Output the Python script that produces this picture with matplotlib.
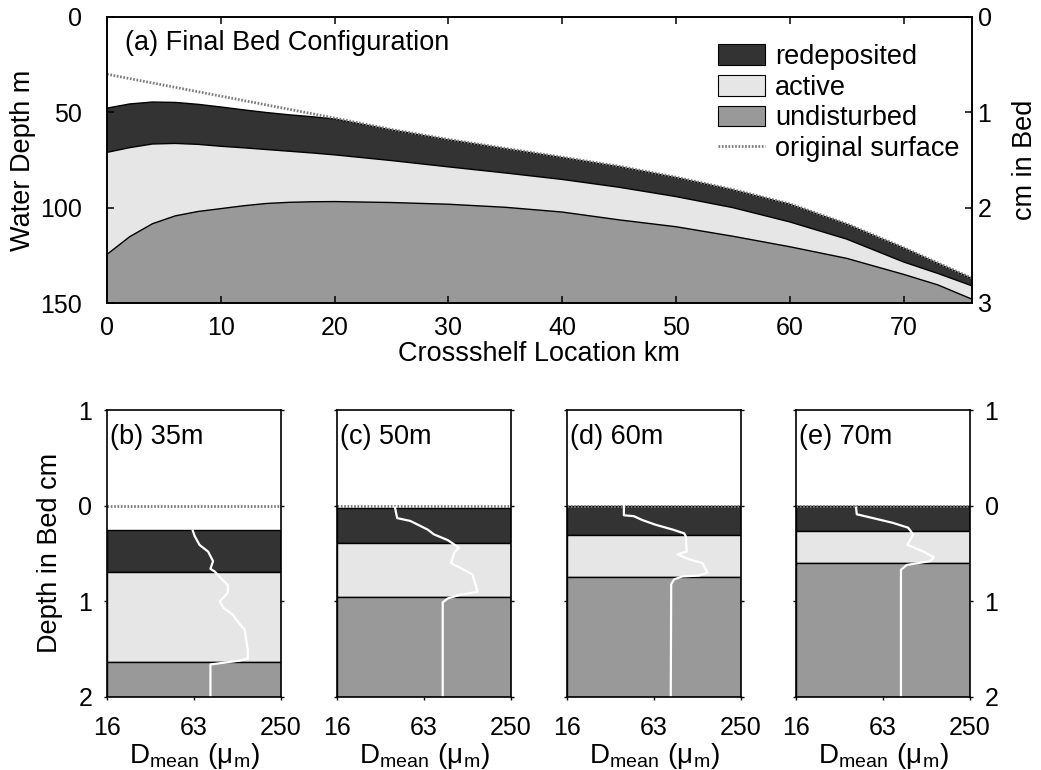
import numpy as np
import matplotlib
matplotlib.use("Agg")
import matplotlib.pyplot as plt
from matplotlib.patches import Patch
from matplotlib.lines import Line2D

plt.rcParams['font.family'] = ['Liberation Sans', 'DejaVu Sans']
plt.rcParams['mathtext.fontset'] = 'custom'
plt.rcParams['mathtext.rm'] = 'Liberation Sans'

# Cross-shelf bed layers (water depth, m)
km = [0, 2, 4, 6, 8, 10, 12, 14, 16, 18, 20, 25, 30, 35, 40, 45, 50, 55, 60, 65, 70, 73, 76]
surface = [30, 32.3, 34.6, 36.9, 39.2, 41.5, 43.8, 46.1, 48.4, 50.7, 53, 59, 64.2,
           68.9, 73.5, 78.3, 84, 90.5, 98, 108.5, 121, 129, 137]
redep_top = [47.8, 45.6, 44.6, 44.8, 45.8, 47.2, 48.7, 50.1, 51.3, 52.3, 53.5, 59.3, 64.5,
             69.2, 73.8, 78.6, 84.3, 90.8, 98.3, 108.8, 121.3, 129.3, 137.3]
active_top = [71, 68.5, 66.6, 66.3, 66.8, 67.8, 68.6, 69.5, 70.4, 71.3, 72.3, 75.3, 78.6,
              81.8, 85.2, 89.3, 94.2, 100, 107.5, 116.5, 128.5, 134.5, 141]
undist_top = [124.5, 115.2, 108.4, 104.3, 102, 100.5, 99, 97.8, 97.2, 96.9, 96.8, 97.3, 98.2,
              99.8, 102.3, 106.4, 110, 115, 120.5, 126.6, 135, 140.5, 148]

# Core sites: layer boundaries (cm in bed) and mean grain size profiles (um)
sites = ['(b) 35m', '(c) 50m', '(d) 60m', '(e) 70m']
redep_tops = [0.25, 0.02, 0.0, 0.0]
redep_bots = [0.69, 0.39, 0.31, 0.26]
active_bots = [1.63, 0.95, 0.75, 0.60]

b_depth = [0.26, 0.32, 0.41, 0.48, 0.58, 0.66, 0.69, 0.76, 0.83, 0.91, 1.00, 1.07, 1.14,
           1.19, 1.30, 1.51, 1.60, 1.62, 1.66, 2.0]
b_dmean = [62, 64, 69, 79, 85.5, 82, 88, 97, 108, 108, 95, 101, 117, 123, 141, 148, 148,
           130, 82, 82]
c_depth = [0.02, 0.13, 0.16, 0.25, 0.30, 0.36, 0.41, 0.44, 0.49, 0.60, 0.67, 0.72, 0.90,
           0.93, 0.97, 1.01, 2.0]
c_dmean = [40, 41.4, 51, 67, 74, 92, 103, 110, 102, 97, 119, 136, 147.5, 113, 92, 85, 85]
d_depth = [0.0, 0.10, 0.11, 0.15, 0.20, 0.25, 0.29, 0.32, 0.48, 0.51, 0.56, 0.60, 0.70,
           0.73, 0.74, 0.77, 0.82, 2.0]
d_dmean = [39.3, 39.3, 46, 52.5, 65, 85, 102, 104.5, 106, 91.6, 110, 136, 147.5, 129, 99,
           87, 83, 82.4]
e_depth = [0.02, 0.09, 0.13, 0.18, 0.23, 0.30, 0.41, 0.48, 0.54, 0.58, 0.62, 0.67, 2.0]
e_dmean = [41.3, 41.8, 54, 74, 94, 102, 93, 120, 141.5, 133, 92, 84, 84]
profiles = [(b_depth, b_dmean), (c_depth, c_dmean), (d_depth, d_dmean), (e_depth, e_dmean)]

c_redep = '#333333'
c_active = '#e6e6e6'
c_undist = '#999999'
c_orig = '#7a7a7a'

W, H = 1041, 770


def box(l, t, r, b):
    return [l / W, 1 - b / H, (r - l) / W, (b - t) / H]


fig = plt.figure(figsize=(W / 100, H / 100), dpi=100)

# (a) cross-shelf section
ax = fig.add_axes(box(107, 17, 972, 303))
ax.fill_between(km, redep_top, active_top, facecolor=c_redep, lw=0)
ax.fill_between(km, active_top, undist_top, facecolor=c_active, lw=0)
ax.fill_between(km, undist_top, 150, facecolor=c_undist, lw=0)
for y in (redep_top, active_top, undist_top):
    ax.plot(km, y, color='black', lw=1.0)
ax.plot(km, surface, color=c_orig, lw=2.0, ls=(0, (0.6, 0.6)))
ax.set_xlim(0, 76)
ax.set_ylim(150, 0)
ax.set_xticks(range(0, 80, 10))
ax.set_yticks([0, 50, 100, 150])
ax.tick_params(direction='in', length=5, width=1.1, labelsize=18, top=True,
               right=False, pad=9)
ax.tick_params(axis='y', pad=18)
for s in ax.spines.values():
    s.set_linewidth(1.2)
ax.text(0.021, 0.909, '(a) Final Bed Configuration', transform=ax.transAxes,
        fontsize=19.5, va='center', ha='left')

ax2 = ax.twinx()
ax2.set_ylim(3, 0)
ax2.set_yticks([0, 1, 2, 3])
ax2.tick_params(direction='in', length=5, width=1.1, labelsize=18, pad=4)
for s in ax2.spines.values():
    s.set_linewidth(1.2)

handles = [Patch(facecolor=c_redep, edgecolor='black', lw=0.8),
           Patch(facecolor=c_active, edgecolor='black', lw=0.8),
           Patch(facecolor=c_undist, edgecolor='black', lw=0.8),
           Line2D([], [], color=c_orig, lw=2.0, ls=(0, (0.6, 0.6)))]
labels = ['redeposited', 'active', 'undisturbed', 'original surface']
ax2.legend(handles, labels, loc='upper left', bbox_to_anchor=(0.706, 0.905),
           frameon=False, fontsize=19.5, handlelength=1.74, handleheight=0.8,
           handletextpad=0.37, labelspacing=0.17, borderaxespad=0, borderpad=0)

fig.text(23 / W, 1 - 160 / H, 'Water Depth m', rotation=90, fontsize=19.5,
         ha='center', va='center')
fig.text(1025 / W, 1 - 160 / H, 'cm in Bed', rotation=90, fontsize=19.5,
         ha='center', va='center')
fig.text(539 / W, 1 - 354 / H, 'Crossshelf Location km', fontsize=19.5,
         ha='center', va='center')

# (b)-(e) bed cores
lefts = [107, 337, 567, 796]
for i, name in enumerate(sites):
    bx = fig.add_axes(box(lefts[i], 410, lefts[i] + 174, 697))
    bx.axhspan(redep_tops[i], redep_bots[i], facecolor=c_redep, edgecolor='black', lw=1.0)
    bx.axhspan(redep_bots[i], active_bots[i], facecolor=c_active, edgecolor='black', lw=1.0)
    bx.axhspan(active_bots[i], 2, facecolor=c_undist, edgecolor='black', lw=1.0)
    bx.axhline(0, color=c_orig, lw=2.0, ls=(0, (0.6, 0.6)))
    depth, dmean = profiles[i]
    bx.plot(dmean, depth, color='white', lw=1.6)
    bx.set_xscale('log')
    bx.set_xlim(16, 250)
    bx.set_ylim(2, -1)
    bx.set_xticks([16, 63, 250])
    bx.set_xticklabels(['16', '63', '250'])
    bx.xaxis.set_minor_locator(matplotlib.ticker.NullLocator())
    bx.set_yticks([-1, 0, 1, 2])
    bx.set_yticklabels(['1', '0', '1', '2'])
    bx.tick_params(direction='out', length=2.5, width=1.0, labelsize=18,
                   left=True, right=True, labelleft=(i == 0), labelright=(i == 3))
    bx.tick_params(axis='x', pad=11)
    bx.tick_params(axis='y', pad=8)
    for s in bx.spines.values():
        s.set_linewidth(1.2)
    bx.text(0.02, 0.906, name, transform=bx.transAxes, fontsize=19.5,
            va='center', ha='left')
    bx.set_xlabel(r'$\mathregular{D_{mean}\ (μ_m)}$', fontsize=20, labelpad=1)

fig.text(50 / W, 1 - 553 / H, 'Depth in Bed cm', rotation=90, fontsize=19.5,
         ha='center', va='center')

fig.savefig('out.png', dpi=100)
